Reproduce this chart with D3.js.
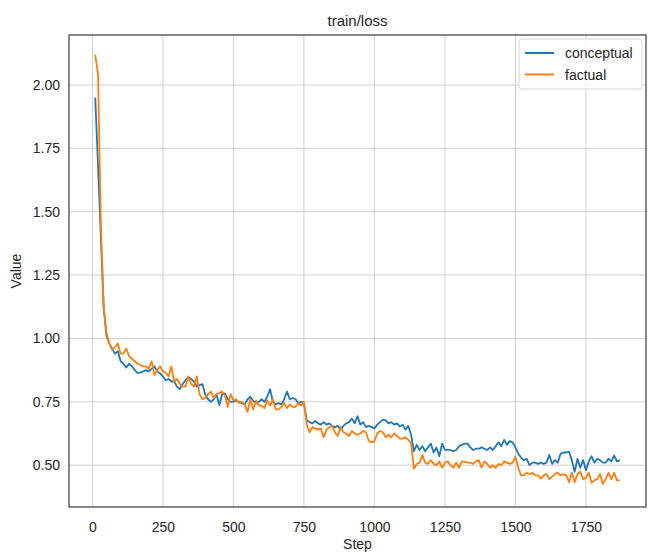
<!DOCTYPE html>
<html>
<head>
<meta charset="utf-8">
<script src="https://cdn.jsdelivr.net/npm/d3@7"></script>
<style>
  body { margin: 0; background: #fff; }
  text { font-family: "Liberation Sans", Arial, sans-serif; fill: #262626; }
</style>
</head>
<body>
<script>
// steps 10..1870, every 10
var steps = d3.range(10, 1871, 10);

var conceptual = [
  1.95, 1.68, 1.40, 1.12, 1.01, 0.98, 0.96, 0.94, 0.95, 0.91,
  0.90, 0.885, 0.90, 0.89, 0.875, 0.864, 0.865, 0.87, 0.875, 0.87,
  0.88, 0.89, 0.87, 0.862, 0.85, 0.835, 0.84, 0.83, 0.83, 0.81,
  0.80, 0.82, 0.835, 0.848, 0.84, 0.83, 0.81, 0.816, 0.82, 0.78,
  0.76, 0.75, 0.76, 0.78, 0.737, 0.78, 0.783, 0.76, 0.75, 0.75,
  0.755, 0.75, 0.745, 0.74, 0.76, 0.77, 0.755, 0.744, 0.75, 0.76,
  0.75, 0.77, 0.80, 0.75, 0.74, 0.745, 0.74, 0.76, 0.79, 0.76,
  0.765, 0.76, 0.745, 0.75, 0.745, 0.677, 0.67, 0.665, 0.675, 0.665,
  0.66, 0.67, 0.66, 0.665, 0.655, 0.65, 0.655, 0.64, 0.655, 0.665,
  0.67, 0.684, 0.665, 0.693, 0.66, 0.67, 0.65, 0.655, 0.65, 0.645,
  0.66, 0.67, 0.68, 0.677, 0.665, 0.67, 0.66, 0.665, 0.652, 0.66,
  0.64, 0.655, 0.62, 0.555, 0.58, 0.56, 0.575, 0.555, 0.57, 0.585,
  0.55, 0.57, 0.535, 0.585, 0.56, 0.56, 0.56, 0.555, 0.56, 0.575,
  0.58, 0.585, 0.585, 0.57, 0.56, 0.565, 0.565, 0.57, 0.565, 0.56,
  0.57, 0.56, 0.575, 0.59, 0.575, 0.60, 0.58, 0.595, 0.59, 0.57,
  0.545, 0.53, 0.52, 0.525, 0.50, 0.51, 0.51, 0.505, 0.51, 0.505,
  0.51, 0.54, 0.505, 0.52, 0.51, 0.545, 0.55, 0.55, 0.553, 0.52,
  0.474, 0.525, 0.49, 0.52, 0.48, 0.515, 0.535, 0.51, 0.525, 0.52,
  0.51, 0.51, 0.525, 0.515, 0.538, 0.515, 0.52
];

var factual = [
  2.12, 2.04, 1.45, 1.12, 1.02, 0.98, 0.955, 0.965, 0.98, 0.94,
  0.94, 0.96, 0.93, 0.92, 0.91, 0.90, 0.895, 0.89, 0.89, 0.88,
  0.91, 0.855, 0.875, 0.89, 0.87, 0.865, 0.85, 0.89, 0.83, 0.84,
  0.82, 0.81, 0.81, 0.85, 0.82, 0.81, 0.85, 0.78, 0.76, 0.765,
  0.78, 0.79, 0.765, 0.78, 0.785, 0.79, 0.775, 0.73, 0.78, 0.755,
  0.76, 0.745, 0.75, 0.74, 0.71, 0.76, 0.72, 0.755, 0.735, 0.735,
  0.725, 0.755, 0.735, 0.76, 0.72, 0.72, 0.73, 0.745, 0.725, 0.74,
  0.73, 0.73, 0.745, 0.735, 0.75, 0.66, 0.63, 0.65, 0.645, 0.64,
  0.645, 0.61, 0.64, 0.65, 0.655, 0.63, 0.615, 0.65, 0.63, 0.625,
  0.615, 0.635, 0.625, 0.62, 0.625, 0.635, 0.63, 0.595, 0.59, 0.595,
  0.625, 0.635, 0.63, 0.61, 0.62, 0.61, 0.625, 0.615, 0.605, 0.605,
  0.61, 0.60, 0.585, 0.486, 0.505, 0.51, 0.54, 0.51, 0.505, 0.52,
  0.505, 0.50, 0.515, 0.49, 0.51, 0.515, 0.50, 0.49, 0.51, 0.49,
  0.515, 0.513, 0.51, 0.51, 0.505, 0.515, 0.52, 0.49, 0.515, 0.505,
  0.49, 0.50, 0.49, 0.505, 0.50, 0.515, 0.51, 0.505, 0.51, 0.533,
  0.49, 0.46, 0.46, 0.47, 0.465, 0.47, 0.46, 0.46, 0.447, 0.46,
  0.465, 0.445, 0.455, 0.465, 0.47, 0.46, 0.465, 0.46, 0.433, 0.47,
  0.433, 0.465, 0.475, 0.445, 0.45, 0.47, 0.43, 0.44, 0.445, 0.465,
  0.425, 0.445, 0.47, 0.445, 0.47, 0.44, 0.44
];

var seriesNames = ["conceptual", "factual"];
var seriesColors = ["#1f77b4", "#ff7f0e"];
var xTicks = [0, 250, 500, 750, 1000, 1250, 1500, 1750];
var yTicks = [0.50, 0.75, 1.00, 1.25, 1.50, 1.75, 2.00];

var width = 648, height = 555;
var margin = {left: 69, right: 2, top: 35, bottom: 48};

var svg = d3.select("body").append("svg")
    .attr("width", width)
    .attr("height", height);

var x = d3.scaleLinear().domain([-83, 1963]).range([margin.left, width - margin.right]);
var y = d3.scaleLinear().domain([0.335, 2.197]).range([height - margin.bottom, margin.top]);

// grid
svg.append("g").selectAll("line").data(xTicks).enter().append("line")
    .attr("x1", d => x(d)).attr("x2", d => x(d))
    .attr("y1", margin.top).attr("y2", height - margin.bottom)
    .attr("stroke", "#d0d0d0").attr("stroke-width", 1);
svg.append("g").selectAll("line").data(yTicks).enter().append("line")
    .attr("y1", d => y(d)).attr("y2", d => y(d))
    .attr("x1", margin.left).attr("x2", width - margin.right)
    .attr("stroke", "#d0d0d0").attr("stroke-width", 1);

// lines
var line = d3.line().x((d, i) => x(steps[i])).y(d => y(d));
[conceptual, factual].forEach(function(s, k) {
    svg.append("path")
        .datum(s)
        .attr("d", line)
        .attr("fill", "none")
        .attr("stroke", seriesColors[k])
        .attr("stroke-width", 1.8)
        .attr("stroke-linejoin", "round");
});

// frame
svg.append("rect")
    .attr("x", margin.left).attr("y", margin.top)
    .attr("width", width - margin.right - margin.left)
    .attr("height", height - margin.bottom - margin.top)
    .attr("fill", "none").attr("stroke", "#4a4a4a").attr("stroke-width", 1.3);

// axes
var xAxis = svg.append("g")
    .attr("transform", "translate(0," + (height - margin.bottom) + ")")
    .call(d3.axisBottom(x).tickValues(xTicks).tickSize(0).tickPadding(15).tickFormat(d3.format("d")));
var yAxis = svg.append("g")
    .attr("transform", "translate(" + margin.left + ",0)")
    .call(d3.axisLeft(y).tickValues(yTicks).tickSize(0).tickPadding(9).tickFormat(d3.format(".2f")));
[xAxis, yAxis].forEach(function(a) {
    a.select(".domain").remove();
    a.selectAll("text").attr("font-size", 14).style("font-family", "'Liberation Sans', Arial, sans-serif").attr("fill", "#262626");
});

svg.append("text")
    .attr("x", (margin.left + width - margin.right) / 2).attr("y", 26)
    .attr("text-anchor", "middle").attr("font-size", 15)
    .text("train/loss");
svg.append("text")
    .attr("x", (margin.left + width - margin.right) / 2).attr("y", 549)
    .attr("text-anchor", "middle").attr("font-size", 14)
    .text("Step");
svg.append("text")
    .attr("transform", "translate(21," + ((margin.top + height - margin.bottom) / 2) + ") rotate(-90)")
    .attr("text-anchor", "middle").attr("font-size", 14)
    .text("Value");

// legend
var lg = svg.append("g").attr("transform", "translate(519,39)");
lg.append("rect")
    .attr("width", 123).attr("height", 50).attr("rx", 3)
    .attr("fill", "#fff").attr("fill-opacity", 0.8)
    .attr("stroke", "#d6d6d6");
seriesNames.forEach(function(n, k) {
    var yy = 14 + k * 21.5;
    lg.append("line").attr("x1", 6).attr("x2", 35).attr("y1", yy).attr("y2", yy)
        .attr("stroke", seriesColors[k]).attr("stroke-width", 2);
    lg.append("text").attr("x", 46).attr("y", yy + 5).attr("font-size", 14).text(n);
});
</script>
</body>
</html>
